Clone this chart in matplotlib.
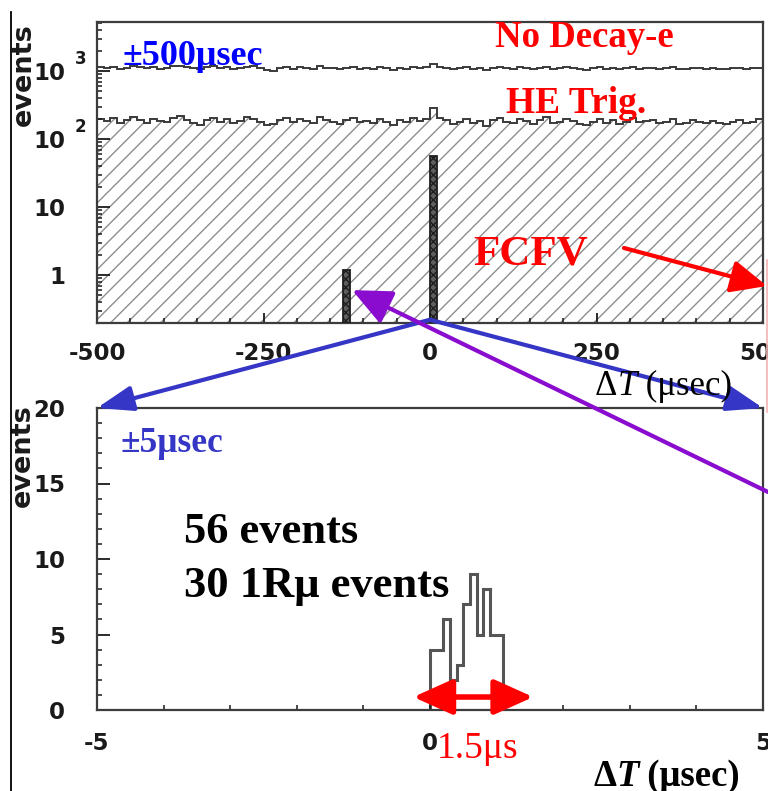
import numpy as np
import matplotlib
matplotlib.use("Agg")
import matplotlib.pyplot as plt
import matplotlib.transforms as mtransforms
from matplotlib.patches import ConnectionPatch, ArrowStyle
from matplotlib.lines import Line2D
from matplotlib.ticker import MultipleLocator, LogLocator, NullFormatter

# ---------------- data ----------------
# +-500 usec window, 10 usec bins
wide_range = (-500, 500)
wide_bin = 10
no_decay_e = [1150, 1110, 1160, 1080, 1120, 1180, 1130, 1095, 1150, 1070,
              1110, 1170, 1200, 1140, 1090, 1060, 1130, 1165, 1100, 1140,
              1080, 1115, 1150, 1185, 1100, 1040, 1010, 1090, 1130, 1065,
              1140, 1105, 1080, 1165, 1120, 1095, 1060, 1115, 1150, 1080,
              1105, 1070, 1145, 1095, 1050, 1120, 1080, 1135, 1095, 1140,
              1280, 1160, 1115, 1070, 1105, 1145, 1080, 1100, 1045, 1120,
              1155, 1095, 1070, 1130, 1105, 1060, 1120, 1160, 1080, 1095,
              1145, 1105, 1070, 1035, 1095, 1135, 1080, 1120, 1060, 1100,
              1145, 1080, 1105, 1120, 1070, 1095, 1135, 1060, 1085, 1120,
              1100, 1070, 1110, 1085, 1060, 1095, 1120, 1080, 1100, 1110]
he_trig = [198, 182, 204, 172, 188, 212, 192, 170, 200, 184,
           178, 206, 215, 188, 174, 162, 192, 202, 180, 196,
           170, 186, 208, 198, 178, 158, 164, 188, 204, 176,
           196, 184, 170, 208, 192, 180, 164, 188, 206, 176,
           184, 170, 200, 180, 162, 192, 176, 204, 184, 196,
           290, 204, 188, 168, 180, 200, 172, 184, 156, 192,
           206, 180, 170, 196, 184, 164, 188, 208, 172, 180,
           200, 184, 168, 160, 178, 196, 172, 188, 164, 180,
           204, 176, 184, 192, 170, 180, 196, 164, 174, 188,
           180, 170, 184, 174, 164, 178, 188, 174, 180, 200]
fcfv_bin_centers = [-125, 5]
fcfv_counts = [1, 56]

# +-5 usec window, 0.1 usec bins starting at 0
narrow_start = 0.0
narrow_bin = 0.1
narrow_counts = [4, 4, 6, 2, 3, 7, 9, 5, 8, 5, 5]

wide_xticks = [-500, -250, 0, 250, 500]
wide_xlabels = ["-500", "-250", "0", "250", "500"]
narrow_xticks = [-5, 0, 5]
narrow_xlabels = ["-5", "0", "5"]
narrow_yticks = [0, 5, 10, 15, 20]

# ---------------- figure ----------------
W, H = 768, 791
fig = plt.figure(figsize=(W / 100, H / 100), dpi=100)
fig.patch.set_facecolor("white")


def fx(x):
    return x / W


def fy(y):
    return 1 - y / H


SERIF = ["Liberation Serif", "DejaVu Serif"]
SANS = ["DejaVu Sans"]
tick_font = dict(family=SANS, weight="bold", size=16.5)
frame_col = "#3c3c3c"
BLUE = "#3636C6"
PURPLE = "#8A0CCF"

ax1 = fig.add_axes([fx(97), fy(323), (763 - 97) / W, (323 - 22) / H])
ax2 = fig.add_axes([fx(97), fy(710), (763 - 97) / W, (710 - 408) / H])

# ---- upper panel: log scale, +-500 usec ----
edges = np.arange(wide_range[0], wide_range[1] + wide_bin, wide_bin)
ybot = 0.197
ax1.set_yscale("log")
ax1.set_xlim(*wide_range)
ax1.set_ylim(ybot, 5250)

ax1.stairs(he_trig, edges, baseline=ybot, fill=True, facecolor="none",
           edgecolor="#8e8e8e", hatch="//", linewidth=0)
ax1.stairs(he_trig, edges, baseline=None, color="#3a3a3a", linewidth=1.4)
ax1.stairs(no_decay_e, edges, baseline=None, color="#3a3a3a", linewidth=1.4)
ax1.bar(fcfv_bin_centers, fcfv_counts, width=wide_bin, bottom=ybot,
        facecolor="#5e5e5e", edgecolor="#1e1e1e", linewidth=1.3,
        hatch="xxxx", zorder=3)

ax1.set_xticks(wide_xticks)
ax1.set_xticklabels(wide_xlabels, fontdict=tick_font)
ax1.xaxis.set_minor_locator(MultipleLocator(50))
ax1.set_yticks([1, 10, 100, 1000])
ax1.set_yticklabels(["1", "10", "10", "10"], fontdict=tick_font)
ax1.yaxis.set_minor_locator(LogLocator(base=10, subs=np.arange(2, 10)))
ax1.yaxis.set_minor_formatter(NullFormatter())
ax1.tick_params(axis="x", which="major", direction="in", length=7.2,
                width=1.3, pad=14, colors="#1a1a1a")
ax1.tick_params(axis="x", which="minor", direction="in", length=3.6,
                width=1.1, colors="#1a1a1a")
ax1.tick_params(axis="y", which="major", direction="in", length=9.4,
                width=1.3, pad=23, colors="#1a1a1a")
ax1.tick_params(axis="y", which="minor", direction="in", length=3.6,
                width=1.1, colors="#1a1a1a")

sup_tr = mtransforms.offset_copy(
    mtransforms.blended_transform_factory(ax1.transAxes, ax1.transData),
    fig=fig, x=0, y=12, units="dots")
for val, exp in [(100, "2"), (1000, "3")]:
    ax1.text(-0.033, val, exp, transform=sup_tr, ha="left", va="center",
             family=SANS, weight="bold", size=12, color="#1a1a1a")

ax1.text(-0.1096, 0.824, "events", transform=ax1.transAxes, rotation=90,
         ha="center", va="center", family=SANS, weight="bold", size=19.5,
         color="#1a1a1a")

# ---- lower panel: linear, +-5 usec ----
narrow_edges = narrow_start + narrow_bin * np.arange(len(narrow_counts) + 1)
ax2.set_xlim(-5, 5)
ax2.set_ylim(0, 20)
ax2.stairs(narrow_counts, narrow_edges, baseline=0, color="#555555",
           linewidth=2.2)

ax2.set_xticks(narrow_xticks)
ax2.set_xticklabels(narrow_xlabels, fontdict=tick_font)
ax2.xaxis.set_minor_locator(MultipleLocator(1))
ax2.set_yticks(narrow_yticks)
ax2.set_yticklabels([str(v) for v in narrow_yticks], fontdict=tick_font)
ax2.yaxis.set_minor_locator(MultipleLocator(1))
ax2.tick_params(axis="x", which="both", direction="in", length=3.6,
                width=1.1, pad=16, colors="#1a1a1a")
ax2.tick_params(axis="y", which="major", direction="in", length=9.4,
                width=1.3, pad=23, colors="#1a1a1a")
ax2.tick_params(axis="y", which="minor", direction="in", length=3.6,
                width=1.1, colors="#1a1a1a")
ax2.text(-0.111, 0.841, "events", transform=ax2.transAxes, rotation=90,
         ha="center", va="center", family=SANS, weight="bold", size=19.5,
         color="#1a1a1a")

for ax in (ax1, ax2):
    for sp in ax.spines.values():
        sp.set_color(frame_col)
        sp.set_linewidth(1.6)

# ---- annotations ----
def arrow_style(hl, hw):
    return ArrowStyle("-|>", head_length=hl, head_width=hw)


# zoom lines from the upper panel's t=0 down to the lower panel's corners
for corner in (-5, 5):
    con = ConnectionPatch(xyA=(0, 0.22), coordsA=ax1.transData,
                          xyB=(corner, 20), coordsB=ax2.transData,
                          arrowstyle=arrow_style(1.0, 0.35),
                          mutation_scale=22, color=BLUE, linewidth=3)
    fig.add_artist(con)

# pointer to the isolated out-of-time event
con = ConnectionPatch(xyA=(768, H - 492), coordsA="figure pixels",
                      xyB=(-117, 0.6), coordsB=ax1.transData,
                      arrowstyle=arrow_style(1.0, 0.45),
                      mutation_scale=24, color=PURPLE, linewidth=3)
fig.add_artist(con)

# FCFV pointer
con = ConnectionPatch(xyA=(624, H - 248), coordsA="figure pixels",
                      xyB=(767, H - 286), coordsB="figure pixels",
                      arrowstyle=arrow_style(1.0, 0.45),
                      mutation_scale=22, color="red", linewidth=3)
fig.add_artist(con)

# timing window arrow in the lower panel
ax2.annotate("", xy=(1.55, 0.86), xytext=(-0.25, 0.86),
             arrowprops=dict(arrowstyle=ArrowStyle("<|-|>", head_length=1.0,
                                                   head_width=0.45),
                             mutation_scale=24, color="red", linewidth=4,
                             shrinkA=0, shrinkB=0))

# slide border lines
fig.add_artist(Line2D([fx(11), fx(11)], [fy(12), fy(791)],
                      transform=fig.transFigure, color="black", linewidth=1.3))
fig.add_artist(Line2D([fx(767), fx(767)], [fy(260), fy(412)],
                      transform=fig.transFigure, color="#f3b3b3",
                      linewidth=1.2))


def label(x, y, s, **kw):
    return fig.text(fx(x), fy(y), s, ha="left", va="baseline",
                    family=SERIF, **kw)


label(122, 65, "±500μsec", color="blue", weight="bold", size=26)
label(495, 47, "No Decay-e", color="red", weight="bold", size=26.5)
label(506, 113, "HE Trig.", color="red", weight="bold", size=27)
label(473, 265, "FCFV", color="red", weight="bold", size=31)
label(120, 452, "±5μsec", color=BLUE, weight="bold", size=25.5)
label(184, 543, "56 events", color="black", weight="bold", size=32)
label(184, 597, "30 1Rμ events", color="black", weight="bold", size=32)
label(437, 758, "1.5μs", color="red", size=27)

renderer = fig.canvas.get_renderer()


def rich_label(x, y, pieces, **common):
    cur = x
    for s, kw in pieces:
        t = fig.text(cur / W, fy(y), s, ha="left", va="baseline",
                     family=SERIF, **common, **kw)
        cur = t.get_window_extent(renderer).x1


rich_label(595, 395, [("Δ", {}), ("T", {"style": "italic"}),
                      (" (μsec)", {})], size=25, color="black")
rich_label(593, 786, [("Δ", {}), ("T", {"style": "italic"}),
                      (" (μsec)", {})], size=26.5, color="black",
           weight="bold")

fig.savefig("out.png", dpi=100)
